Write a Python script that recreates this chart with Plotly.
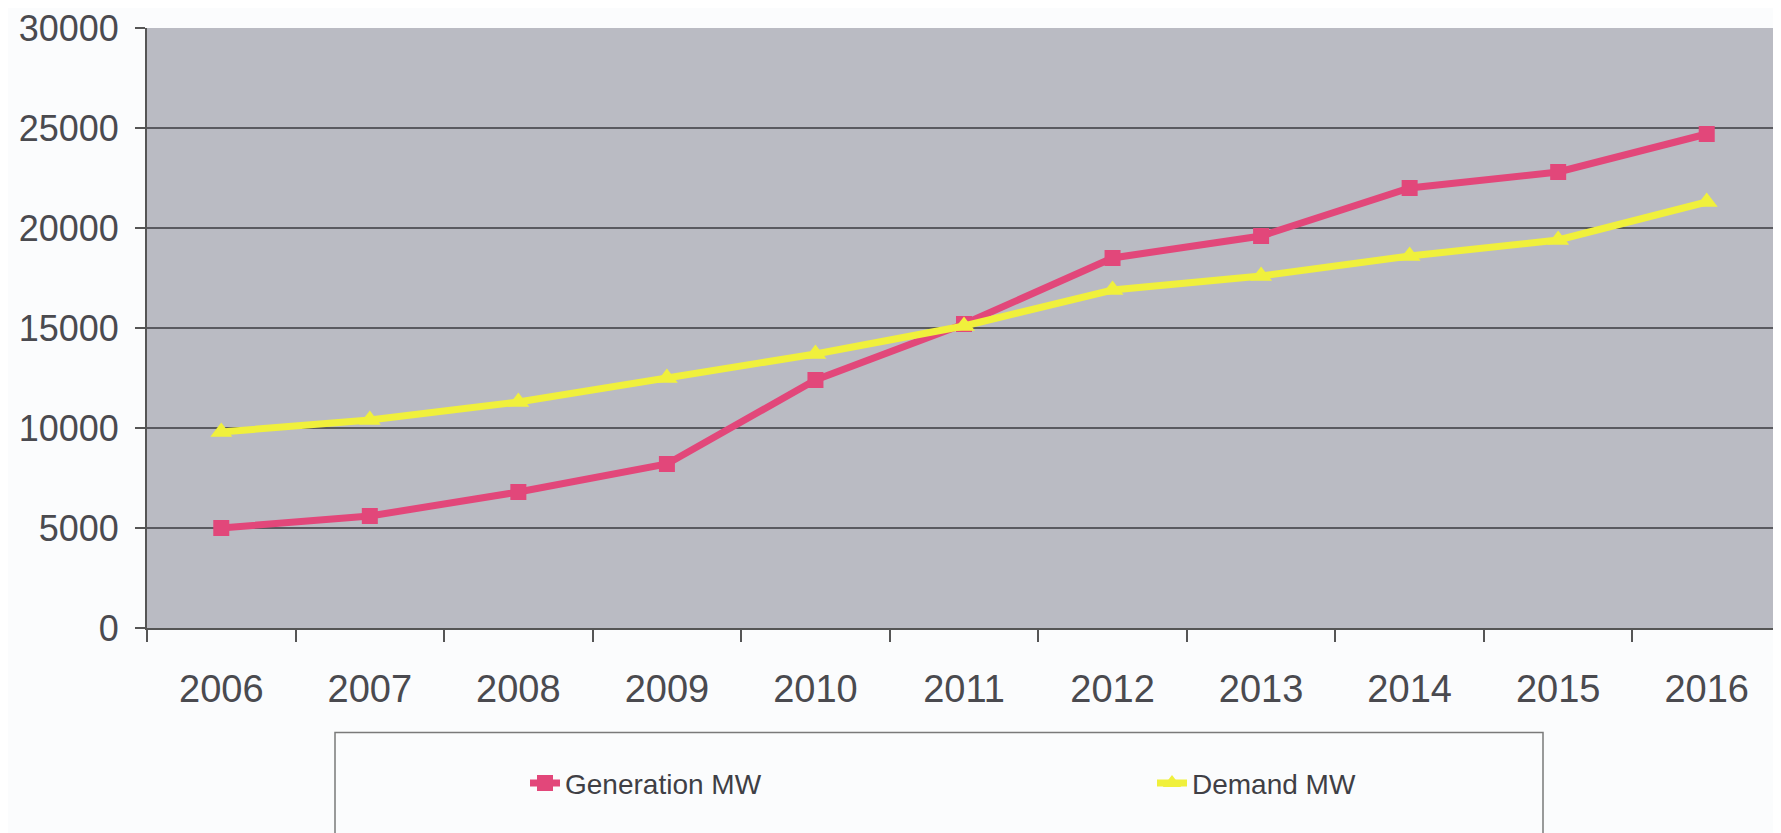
import plotly.graph_objects as go

years = ["2006", "2007", "2008", "2009", "2010", "2011", "2012", "2013", "2014", "2015", "2016"]
generation_mw = [5000, 5600, 6800, 8200, 12400, 15200, 18500, 19600, 22000, 22800, 24700]
demand_mw = [9800, 10400, 11300, 12500, 13700, 15100, 16900, 17600, 18600, 19400, 21300]
y_ticks = [0, 5000, 10000, 15000, 20000, 25000, 30000]

FONT = "Liberation Sans, Arial, sans-serif"
OFF = 8  # default page body margin
W, H = 1781 - OFF, 833 - OFF
L, R, T = 147 - OFF, 0, 25 - OFF
ph = 603
B = H - T - ph
pw = W - L - R

fig = go.Figure()
fig.add_trace(go.Scatter(
    x=years, y=generation_mw, name="Generation MW", mode="lines+markers",
    line=dict(color="#e2477a", width=7),
    marker=dict(symbol="square", size=16, color="#e2477a"),
))
fig.add_trace(go.Scatter(
    x=years, y=demand_mw, name="Demand MW", mode="lines+markers",
    line=dict(color="#f0f03c", width=7),
    marker=dict(symbol="triangle-up", size=19, color="#f0f03c"),
))

# helpers convert reference page pixels to paper coordinates
def px_x(p):
    return (p - OFF - L) / pw

def px_y(p):
    return (T + ph - (p - OFF)) / ph

fig.add_shape(type="rect", xref="paper", yref="paper",
              x0=px_x(335), x1=px_x(1543), y0=px_y(733), y1=px_y(860),
              line=dict(color="#7a7a7a", width=1.5), fillcolor="rgba(0,0,0,0)")

fig.update_layout(
    width=W, height=H,
    margin=dict(l=L, r=R, t=T, b=B),
    paper_bgcolor="#fbfcfd",
    plot_bgcolor="#babbc3",
    font=dict(family=FONT, color="#4a4a4f"),
    showlegend=True,
    legend=dict(
        orientation="h", x=px_x(525), xanchor="left", y=px_y(784), yanchor="middle",
        font=dict(size=28, family=FONT, color="#3f3f45"),
        bgcolor="rgba(0,0,0,0)", entrywidth=582, entrywidthmode="pixels",
    ),
    xaxis=dict(
        type="category", tickson="boundaries", ticks="outside", ticklen=12,
        tickcolor="#555", tickwidth=1.5,
        showline=True, linecolor="#555", linewidth=2,
        showgrid=False, tickfont=dict(size=38, family=FONT, color="#4a4a4f"),
        ticklabelstandoff=26, range=[-0.5, 10.5],
    ),
    yaxis=dict(
        range=[0, 30000], tickvals=y_ticks, ticktext=[str(v) for v in y_ticks],
        ticks="outside", ticklen=10, tickcolor="#555", tickwidth=1.5,
        showline=True, linecolor="#555", linewidth=2,
        showgrid=True, gridcolor="#5a5a60", gridwidth=1.5,
        zeroline=False, ticklabeloverflow="allow",
        tickfont=dict(size=36, family=FONT, color="#4a4a4f"),
        ticklabelstandoff=9,
    ),
)

fig.write_html("out.html")
